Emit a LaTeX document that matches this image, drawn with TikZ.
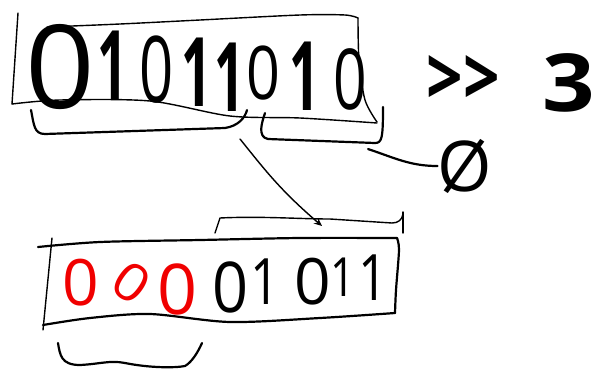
\documentclass[tikz,border=0pt]{standalone}
\usepackage{fontspec}
\setmainfont{Open Sans}
\usetikzlibrary{arrows.meta}
\definecolor{penred}{RGB}{240,0,0}
\newcommand{\nrw}[2]{\scalebox{#1}[1]{#2}}
\begin{document}
\begin{tikzpicture}[x=1pt,y=-1pt,
  pen/.style={line width=1.4pt,line cap=round,line join=round},
  bpen/.style={line width=2.2pt,line cap=round,line join=round},
  topdig/.style={inner sep=0pt,font=\fontsize{96}{96}\selectfont\bfseries},
  topzero/.style={inner sep=0pt,font=\fontsize{92}{92}\selectfont},
  botdig/.style={inner sep=0pt,font=\fontsize{64}{64}\selectfont},
  reddig/.style={botdig,text=penred},
  opdig/.style={inner sep=0pt,font=\fontsize{80}{80}\selectfont\bfseries}]
\useasboundingbox (0,0) rectangle (597,373);
% top box
\draw[pen] (18,13) -- (12,104);
\draw[pen] plot[smooth] coordinates {(47,27) (120,24) (200,20) (300,15) (345,15) (358,18)};
\draw[pen] plot[smooth] coordinates {(358,18) (359,60) (365,100) (377,122)};
\draw[pen] plot[smooth] coordinates {(12,104) (60,100) (150,101) (230,116) (300,118) (377,123)};
% top digits
\node[topzero,font=\fontsize{116}{116}\selectfont] (t1) at (60,67) {\nrw{1.05}{0}};
\node[topdig] (t2) at (113,65) {\nrw{0.55}{1}};
\node[topzero] (t3) at (157,70) {\nrw{0.65}{0}};
\node[topdig] (t4) at (197,72) {\nrw{0.55}{1}};
\node[topdig] (t5) at (230,77) {\nrw{0.55}{1}};
\node[topzero,font=\fontsize{74}{74}\selectfont] (t6) at (263,73) {\nrw{0.8}{0}};
\node[topdig] (t7) at (305,76) {\nrw{0.55}{1}};
\node[topzero,font=\fontsize{84}{84}\selectfont] (t8) at (350,79) {\nrw{0.7}{0}};
% operator
\node[opdig] (op) at (463,80) {\nrw{0.8}{>{}>}};
\node[opdig] (three) at (569,83) {\nrw{1.15}{3}};
% empty set / zero
\node[inner sep=0pt,font=\fontsize{70}{70}\selectfont] (zero) at (465,166) {Ø};
% brackets under top box
\draw[bpen] (31,110) .. controls (34,125) and (34,134) .. (45,134) -- (225,128) .. controls (238,126) and (245,118) .. (247,110);
\draw[bpen] (265,113) .. controls (262,122) and (257,137) .. (268,139) -- (375,143) .. controls (382,143) and (383,138) .. (383,107);
\coordinate (b2tip) at (368,149);
\draw[bpen] (b2tip) .. controls (395,158) and (410,166) .. (zero.west);
% arrow
\coordinate (arrS) at (240,139);
\coordinate (arrE) at (322,226);
\draw[pen,-{Stealth[length=8pt,width=7pt]}] (arrS) .. controls (265,170) and (280,190) .. (arrE);
% bracket above bottom box
\draw[pen] (215,233) -- (220,218) .. controls (260,216) and (300,219) .. (330,219) -- (392,223) .. controls (398,223) and (402,220) .. (403,214);
\draw[pen] (403,212) -- (403,233);
% bottom box
\draw[bpen] plot[smooth] coordinates {(38,247) (100,242) (200,240) (300,238) (397,238)};
\draw[pen] (52,238) -- (43,330);
\draw[bpen] plot[smooth] coordinates {(397,238) (399,250) (396,290) (395,313)};
\draw[bpen] plot[smooth] coordinates {(43,325) (90,318) (150,314) (230,322) (320,318) (395,313)};
% bottom digits
\node[reddig] (r1) at (81,283) {\nrw{1.0}{0}};
\node[reddig,font=\fontsize{52}{52}\selectfont,rotate=-35] (r2) at (132,283) {\nrw{1.1}{0}};
\node[reddig,font=\fontsize{70}{70}\selectfont] (r3) at (178,289) {\nrw{1.0}{0}};
\node[botdig,font=\fontsize{70}{70}\selectfont] (k1) at (231,287) {\nrw{0.9}{0}};
\node[botdig] (k2) at (265,282) {\nrw{0.8}{1}};
\node[botdig] (k3) at (313,282) {\nrw{1.0}{0}};
\node[botdig,font=\fontsize{54}{54}\selectfont] (k4) at (343,277) {\nrw{0.8}{1}};
\node[botdig] (k5) at (373,278) {\nrw{0.8}{1}};
% bracket under bottom box
\draw[bpen] (58,343) .. controls (60,355) and (61,365) .. (80,365) .. controls (100,364) and (110,360) .. (125,363) .. controls (150,368) and (175,368) .. (185,366) .. controls (192,362) and (198,352) .. (202,343);
\end{tikzpicture}
\end{document}
